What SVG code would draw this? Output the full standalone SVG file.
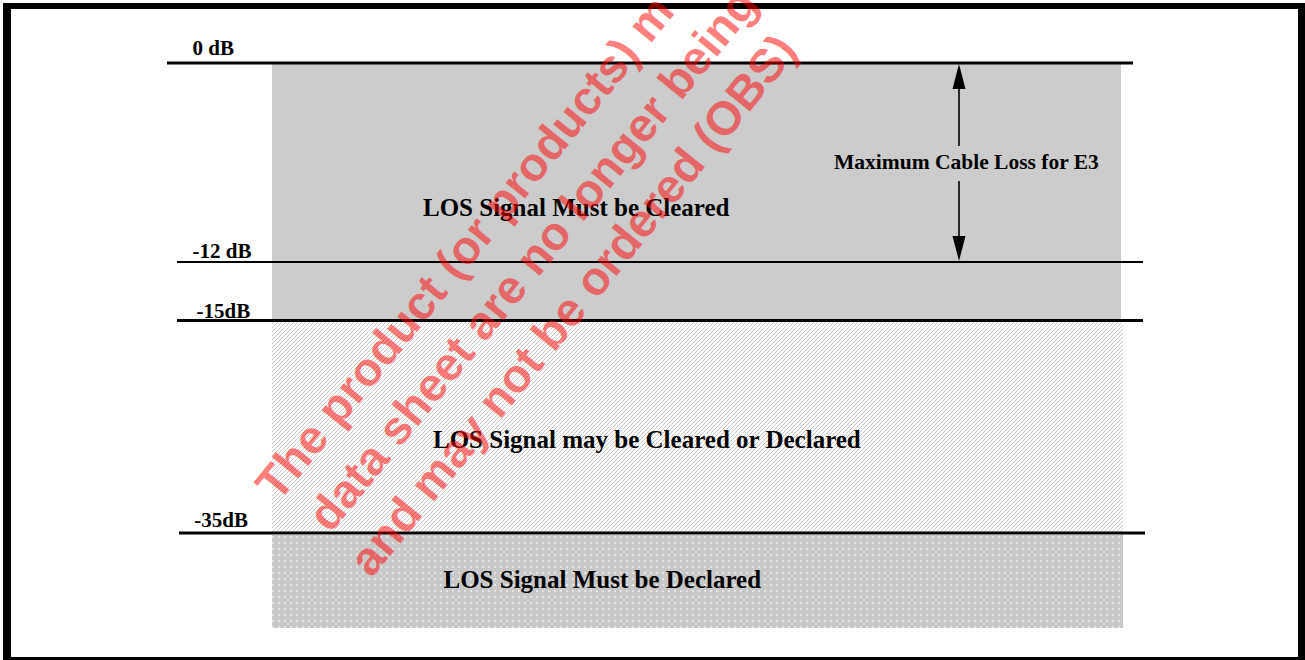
<svg xmlns="http://www.w3.org/2000/svg" width="1305" height="660" viewBox="0 0 1305 660">
  <style>
    .lbl { font-family: "Liberation Serif", "Times New Roman", serif; font-weight: bold; font-size: 21px; fill: #000; }
    .main { font-family: "Liberation Serif", "Times New Roman", serif; font-weight: bold; font-size: 25px; fill: #000; }
    .wm { font-family: "Liberation Sans", Arial, sans-serif; font-weight: bold; font-size: 47px; fill: #ff0000; fill-opacity: 0.5; }
    .lvl { stroke: #000; fill: none; }
  </style>
  <defs>
    <pattern id="hatch" patternUnits="userSpaceOnUse" width="4" height="4">
      <rect width="4" height="4" fill="#ffffff"/>
      <path d="M-1,1 L1,-1 M0,4 L4,0 M3,5 L5,3" stroke="#c9c9c9" stroke-width="1"/>
    </pattern>
    <pattern id="dots" patternUnits="userSpaceOnUse" width="6" height="6">
      <rect width="6" height="6" fill="#c8c8c8"/>
      <rect x="2" y="2" width="2" height="2" fill="#e4e4e4"/>
    </pattern>
  </defs>

  <rect x="0" y="0" width="1305" height="660" fill="#ffffff"/>

  <g id="frame">
    <path d="M3,3 H1305 V663 H3 Z M11,9 V657 H1298 V9 Z" fill="#000" fill-rule="evenodd"/>
  </g>

  <g id="band-cleared">
    <rect x="272" y="64" width="849" height="256" fill="#cccccc"/>
    <text class="main" x="423" y="216">LOS Signal Must be Cleared</text>
  </g>
  <g id="band-maybe">
    <rect x="272" y="322" width="851" height="210" fill="url(#hatch)"/>
    <text class="main" x="433" y="447.5">LOS Signal may be Cleared or Declared</text>
  </g>
  <g id="band-declared">
    <rect x="272" y="535" width="851" height="93" fill="url(#dots)"/>
    <text class="main" x="443.5" y="587.5">LOS Signal Must be Declared</text>
  </g>

  <g id="level-0">
    <line class="lvl" x1="167" y1="63" x2="1133" y2="63" stroke-width="3"/>
    <text class="lbl" x="192.5" y="55">0 dB</text>
  </g>
  <g id="level-12">
    <line class="lvl" x1="177" y1="262" x2="1143" y2="262" stroke-width="1.8"/>
    <text class="lbl" x="192.5" y="257.5">-12 dB</text>
  </g>
  <g id="level-15">
    <line class="lvl" x1="177" y1="320.5" x2="1143" y2="320.5" stroke-width="3"/>
    <text class="lbl" x="196.5" y="317.5">-15dB</text>
  </g>
  <g id="level-35">
    <line class="lvl" x1="179" y1="533" x2="1145" y2="533" stroke-width="3"/>
    <text class="lbl" x="194.3" y="526.7">-35dB</text>
  </g>

  <g id="connectors">
    <line x1="959" y1="86" x2="959" y2="146" stroke="#000" stroke-width="1.6"/>
    <line x1="959" y1="181" x2="959" y2="239" stroke="#000" stroke-width="1.6"/>
    <polygon points="959,64 952.5,89 965.5,89" fill="#000"/>
    <polygon points="959,261 952.5,236 965.5,236" fill="#000"/>
  </g>
  <g id="cable-loss-label">
    <text class="lbl" x="834" y="169" style="font-size:21.5px">Maximum Cable Loss for E3</text>
  </g>

  <g id="watermark" transform="rotate(-51)">
    <text class="wm" x="-216" y="533">The product (or products) m</text>
    <text class="wm" x="-207" y="593">data sheet are no longer being</text>
    <text class="wm" x="-216" y="653">and may not be ordered (OBS)</text>
  </g>
</svg>
